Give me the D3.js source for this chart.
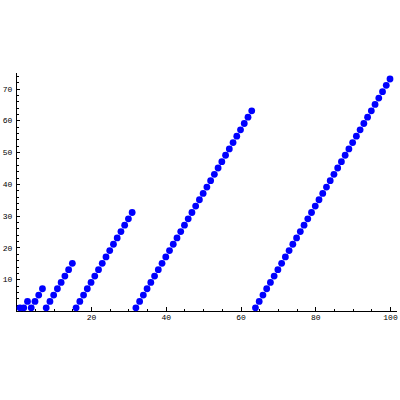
<!DOCTYPE html>
<html>
<head>
<meta charset="utf-8">
<script src="https://cdn.jsdelivr.net/npm/d3@7"></script>
<style>
  body { margin: 0; background: #fff; }
  svg { display: block; }
</style>
</head>
<body>
<div id="chart"></div>
<script>
// n = 1..100
var xValues = d3.range(1, 101);
var yValues = [
  1,
  1, 3,
  1, 3, 5, 7,
  1, 3, 5, 7, 9, 11, 13, 15,
  1, 3, 5, 7, 9, 11, 13, 15, 17, 19, 21, 23, 25, 27, 29, 31,
  1, 3, 5, 7, 9, 11, 13, 15, 17, 19, 21, 23, 25, 27, 29, 31,
  33, 35, 37, 39, 41, 43, 45, 47, 49, 51, 53, 55, 57, 59, 61, 63,
  1, 3, 5, 7, 9, 11, 13, 15, 17, 19, 21, 23, 25, 27, 29, 31,
  33, 35, 37, 39, 41, 43, 45, 47, 49, 51, 53, 55, 57, 59, 61, 63,
  65, 67, 69, 71, 73
];
var xTicks = [20, 40, 60, 80, 100];
var yTicks = [10, 20, 30, 40, 50, 60, 70];

var data = xValues.map(function(x, i) { return { n: x, v: yValues[i] }; });

var w = 400, h = 400;

var svg = d3.select("#chart").append("svg")
    .attr("width", w)
    .attr("height", h);

var xs = d3.scaleLinear().domain([0, 100]).range([16.3, 390]);
var ys = d3.scaleLinear().domain([0, 73]).range([311, 79]);

var xMinor = d3.range(5, 101, 5).filter(function(d) { return d % 20 !== 0; });
var yMinor = d3.range(2, 75, 2).filter(function(d) { return d % 10 !== 0; });

// axis lines
svg.append("line")
    .attr("x1", xs(0)).attr("x2", xs(102))
    .attr("y1", ys(0)).attr("y2", ys(0))
    .attr("stroke", "#000").attr("shape-rendering", "crispEdges");
svg.append("line")
    .attr("x1", xs(0)).attr("x2", xs(0))
    .attr("y1", ys(0)).attr("y2", ys(74.8))
    .attr("stroke", "#000").attr("shape-rendering", "crispEdges");

function styleAxis(g) {
  g.select(".domain").remove();
  g.selectAll("line").attr("shape-rendering", "crispEdges");
  g.selectAll("text")
      .attr("font-family", "'Liberation Mono', 'DejaVu Sans Mono', monospace")
      .attr("font-size", 8)
      .attr("fill", "#000");
}

// x axis
svg.append("g")
    .attr("transform", "translate(0," + ys(0) + ")")
    .call(d3.axisBottom(xs).tickValues(xTicks).tickSizeInner(-4).tickSizeOuter(0).tickPadding(3))
    .call(styleAxis);
svg.append("g")
    .attr("transform", "translate(0," + ys(0) + ")")
    .call(d3.axisBottom(xs).tickValues(xMinor).tickFormat("").tickSizeInner(-2.5).tickSizeOuter(0))
    .call(styleAxis);

// y axis
svg.append("g")
    .attr("transform", "translate(" + xs(0) + ",0)")
    .call(d3.axisLeft(ys).tickValues(yTicks).tickSizeInner(-4).tickSizeOuter(0).tickPadding(4))
    .call(styleAxis);
svg.append("g")
    .attr("transform", "translate(" + xs(0) + ",0)")
    .call(d3.axisLeft(ys).tickValues(yMinor).tickFormat("").tickSizeInner(-2.5).tickSizeOuter(0))
    .call(styleAxis);

// points
svg.append("g")
  .selectAll("circle")
  .data(data)
  .enter().append("circle")
    .attr("cx", function(d) { return xs(d.n); })
    .attr("cy", function(d) { return ys(d.v); })
    .attr("r", 3.4)
    .attr("fill", "#0000ff");
</script>
</body>
</html>
